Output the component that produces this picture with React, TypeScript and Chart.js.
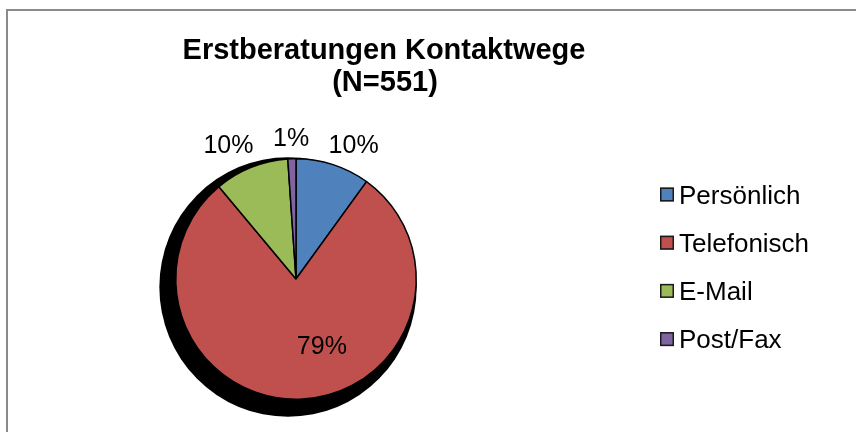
import React, { useEffect, useRef } from 'react';
import { Chart, registerables } from 'chart.js';

Chart.register(...registerables);

const titleLines = ['Erstberatungen Kontaktwege', '(N=551)'];
const categories = ['Persönlich', 'Telefonisch', 'E-Mail', 'Post/Fax'];
const counts = [55, 435, 55, 6];
const sliceColors = ['#4F81BD', '#C0504D', '#9BBB59', '#8064A2'];

// label placement relative to pie centre, in units of radius (style only)
const labelOffsets = [
  [0.479, -1.107],
  [0.215, 0.57],
  [-0.562, -1.107],
  [-0.041, -1.165],
];

const FONT = '"Liberation Sans", Arial, sans-serif';

const framePlugin = {
  id: 'frame',
  beforeDraw(chart: any) {
    const ctx = chart.ctx;
    ctx.save();
    ctx.fillStyle = '#ffffff';
    ctx.fillRect(0, 0, chart.width, chart.height);
    ctx.strokeStyle = '#8a8a8a';
    ctx.lineWidth = 2;
    ctx.beginPath();
    ctx.moveTo(7, chart.height + 10);
    ctx.lineTo(7, 10);
    ctx.lineTo(chart.width + 10, 10);
    ctx.stroke();
    ctx.restore();
  },
};

const shadowPlugin = {
  id: 'pieShadow',
  beforeDatasetsDraw(chart: any) {
    const meta = chart.getDatasetMeta(0);
    const arc = meta.data[0];
    if (!arc) return;
    const { x, y, outerRadius } = arc.getProps(['x', 'y', 'outerRadius'], true);
    const ctx = chart.ctx;
    ctx.save();
    ctx.fillStyle = '#000000';
    ctx.beginPath();
    ctx.ellipse(x - 8, y + 8, outerRadius * 1.07, outerRadius * 1.08, 0, 0, Math.PI * 2);
    ctx.fill();
    ctx.restore();
  },
};

const labelPlugin = {
  id: 'sliceLabels',
  afterDatasetsDraw(chart: any) {
    const meta = chart.getDatasetMeta(0);
    const data = chart.data.datasets[0].data as number[];
    const total = data.reduce((a, b) => a + b, 0);
    const ctx = chart.ctx;
    ctx.save();
    ctx.fillStyle = '#000000';
    ctx.font = `25px ${FONT}`;
    ctx.textAlign = 'center';
    ctx.textBaseline = 'middle';
    meta.data.forEach((arc: any, i: number) => {
      const { x, y, outerRadius } = arc.getProps(['x', 'y', 'outerRadius'], true);
      const pct = Math.round((data[i] / total) * 100) + '%';
      const off = labelOffsets[i];
      ctx.fillText(pct, x + off[0] * outerRadius, y + off[1] * outerRadius);
    });
    ctx.restore();
  },
};

const titlePlugin = {
  id: 'customTitle',
  afterDraw(chart: any) {
    const ctx = chart.ctx;
    ctx.save();
    ctx.fillStyle = '#000000';
    ctx.font = `bold 29px ${FONT}`;
    ctx.textAlign = 'center';
    ctx.textBaseline = 'alphabetic';
    ctx.fillText(titleLines[0], 384, 59);
    ctx.fillText(titleLines[1], 385, 91);
    ctx.restore();
  },
};

const legendPlugin = {
  id: 'customLegend',
  afterDraw(chart: any) {
    const ctx = chart.ctx;
    const labels = chart.data.labels as string[];
    const colors = chart.data.datasets[0].backgroundColor as string[];
    ctx.save();
    ctx.font = `26px ${FONT}`;
    ctx.textAlign = 'left';
    ctx.textBaseline = 'alphabetic';
    labels.forEach((lab, i) => {
      const cy = 194.5 + i * 48.2;
      ctx.fillStyle = colors[i];
      ctx.fillRect(660, cy - 7, 14, 14);
      ctx.strokeStyle = '#1a1a1a';
      ctx.lineWidth = 1.5;
      ctx.strokeRect(660.75, cy - 6.25, 12.5, 12.5);
      ctx.fillStyle = '#000000';
      ctx.fillText(lab, 679, cy + 9);
    });
    ctx.restore();
  },
};

export default function App() {
  const ref = useRef<HTMLCanvasElement | null>(null);
  useEffect(() => {
    if (!ref.current) return;
    const chart = new Chart(ref.current, {
      type: 'pie',
      data: {
        labels: categories,
        datasets: [
          {
            data: counts,
            backgroundColor: sliceColors,
            borderColor: '#000000',
            borderWidth: 1.5,
          },
        ],
      },
      options: {
        responsive: false,
        animation: false,
        devicePixelRatio: 1,
        layout: { padding: { left: 175, right: 439, top: 158, bottom: 32 } },
        plugins: {
          legend: { display: false },
          title: { display: false },
          tooltip: { enabled: false },
        },
      },
      plugins: [framePlugin, shadowPlugin, labelPlugin, titlePlugin, legendPlugin],
    });
    return () => chart.destroy();
  }, []);
  return (
    <div style={{ position: 'absolute', left: 0, top: 0, width: 856, height: 432 }}>
      <canvas ref={ref} width={856} height={432} style={{ width: 856, height: 432, display: 'block' }} />
    </div>
  );
}
